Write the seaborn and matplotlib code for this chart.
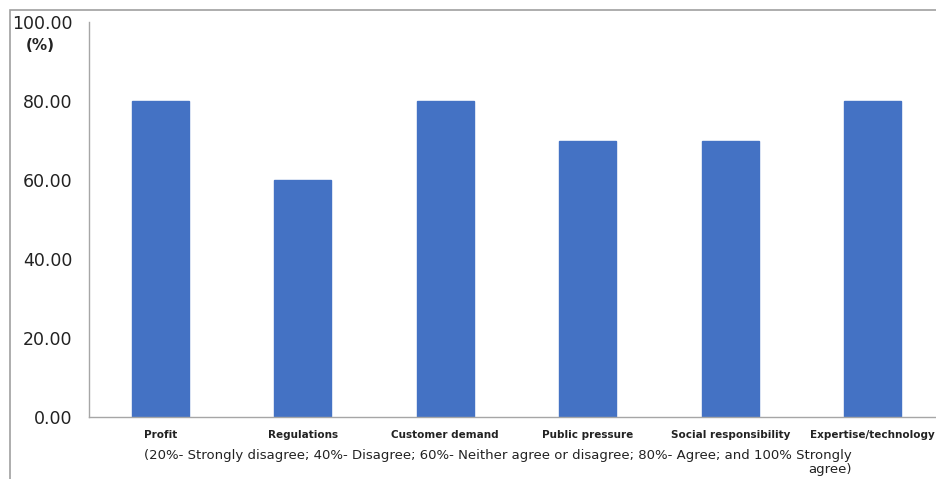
import matplotlib
matplotlib.use("Agg")
import matplotlib.pyplot as plt
import seaborn as sns
import pandas as pd
import numpy as np
from matplotlib.patches import Rectangle

categories = ["Profit", "Regulations", "Customer demand", "Public pressure",
              "Social responsibility", "Expertise/technology"]
values = [80, 60, 80, 70, 70, 80]
yticks = [0, 20, 40, 60, 80, 100]
caption = ("(20%- Strongly disagree; 40%- Disagree; 60%- Neither agree or disagree; 80%- Agree; and 100% Strongly\n"
           "agree)")

sns.set_style("white")
plt.rcParams['font.family'] = ['DejaVu Sans']

df = pd.DataFrame({"cat": categories, "val": values})

W, H = 936, 479
fig = plt.figure(figsize=(W/100, H/100), dpi=100)
left, right, top, bottom = 89, 944, 22, 417
ax = fig.add_axes([left/W, 1-bottom/H, (right-left)/W, (bottom-top)/H])

sns.barplot(data=df, x="cat", y="val", ax=ax, color="#4472C4", width=0.4,
            saturation=1, edgecolor="#4472C4")

ax.set_ylim(0, 100)
ax.set_xlim(-0.5, len(categories)-0.5)
ax.set_yticks(yticks)
ax.set_yticklabels([f"{v:.2f}" for v in yticks], fontsize=12.5, color="#222222")
ax.set_xlabel("")
ax.set_ylabel("")
ax.set_xticks(range(len(categories)))
ax.set_xticklabels(categories, fontsize=7.5, fontweight="bold", color="#222222")
ax.set_xticks(np.arange(-0.5, len(categories)), minor=True)
ax.tick_params(axis="x", which="major", length=0, pad=9)
ax.tick_params(axis="x", which="minor", length=5, color="#A6A6A6", width=1, direction="out")
ax.tick_params(axis="y", length=5, color="#A6A6A6", width=1, direction="out", pad=7)

for s in ["top", "right"]:
    ax.spines[s].set_visible(False)
for s in ["left", "bottom"]:
    ax.spines[s].set_color("#A6A6A6")
    ax.spines[s].set_linewidth(1)

fig.text(40/W, 1-46/H, "(%)", fontsize=11, fontweight="bold", ha="center", va="center", color="#222222")
fig.text(498/W, 1-462/H, caption, fontsize=9.5, ha="center", va="center",
         multialignment="right", color="#222222", linespacing=1.1)

fig.patches.append(Rectangle((10/W, -0.1), 1.2, 1-10/H+0.1, transform=fig.transFigure,
                             fill=False, edgecolor="#A0A0A0", linewidth=1.2))

fig.savefig("out.png", dpi=100)
